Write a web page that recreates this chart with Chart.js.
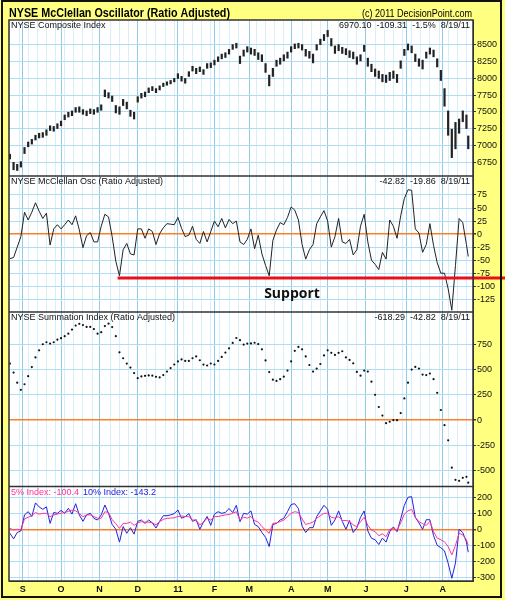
<!DOCTYPE html>
<html>
<head>
<meta charset="utf-8">
<title>NYSE McClellan Oscillator (Ratio Adjusted)</title>
<script src="https://cdn.jsdelivr.net/npm/chart.js@4.4.0/dist/chart.umd.min.js"></script>
<style>
  html, body { margin: 0; padding: 0; background: #ffff80; }
  canvas { display: block; }
</style>
</head>
<body>
<canvas id="chart" width="505" height="600"></canvas>
<script>
// one sample every 2 trading sessions, session 0 = 23 Aug 2010, last = 19 Aug 2011
const sampleStep = 2;
const lastSession = 251;

// month starts (session index) and their labels
const monthStarts = [7, 28, 49, 70, 92, 112, 131, 154, 174, 195, 217, 237];
const monthLabels = ['S', 'O', 'N', 'D', '11', 'F', 'M', 'A', 'M', 'J', 'J', 'A'];

// NYSE Composite, high/low of each sample
const compLow = [6800,6640,6630,6680,6880,6980,7020,7080,7110,7120,
  7150,7220,7210,7250,7290,7380,7420,7440,7490,7490,
  7460,7440,7470,7460,7490,7520,7720,7700,7650,7480,
  7460,7590,7540,7430,7390,7640,7700,7720,7780,7810,
  7780,7820,7870,7890,7910,7940,7990,7950,7920,8020,
  8100,8060,8090,8050,8140,8150,8190,8240,8280,8300,
  8350,8420,8440,8210,8320,8380,8350,8330,8270,8240,
  8080,7880,8020,8170,8200,8250,8290,8380,8430,8440,
  8410,8320,8290,8220,8410,8490,8550,8610,8470,8360,
  8400,8360,8340,8300,8280,8200,8250,8390,8170,8090,
  8020,7990,7940,7930,7960,7990,7930,8140,8330,8410,
  8370,8240,8170,8130,8290,8350,8310,8160,7960,7580,
  7150,6820,6950,7180,7350,7250,6950];
const compHigh = [6880,6760,6730,6770,6980,7060,7100,7160,7190,7200,
  7240,7300,7290,7330,7370,7460,7500,7520,7570,7580,
  7540,7520,7550,7540,7570,7610,7830,7790,7740,7600,
  7580,7690,7650,7530,7500,7730,7780,7800,7860,7880,
  7850,7890,7930,7950,7970,8000,8070,8030,8000,8100,
  8180,8150,8170,8130,8220,8230,8270,8320,8360,8380,
  8430,8500,8520,8330,8420,8470,8450,8430,8380,8350,
  8220,8050,8150,8270,8300,8350,8390,8470,8510,8520,
  8500,8430,8400,8360,8500,8580,8650,8710,8590,8480,
  8500,8460,8440,8410,8390,8320,8350,8490,8300,8210,
  8140,8110,8060,8050,8090,8110,8060,8260,8430,8510,
  8480,8360,8290,8270,8390,8450,8420,8290,8120,7850,
  7520,7250,7350,7400,7520,7460,7150];

// McClellan Oscillator (ratio adjusted)
const oscValues = [-47,-45,-25,-5,42,27,42,60,44,30,
  40,-21,10,18,10,18,27,18,35,8,
  -26,-3,3,-15,-15,15,38,33,-5,-52,
  -80,-30,-18,-38,-40,10,10,-8,10,5,
  -20,1,12,20,19,18,32,11,-5,-2,
  15,-10,-18,5,-15,5,25,14,30,12,
  28,20,25,-15,-20,-10,10,-28,-2,-38,
  -60,-80,-12,8,22,18,32,52,46,27,
  -20,-48,-30,-20,20,33,45,25,-25,-5,
  30,-15,-18,-10,-40,-30,15,38,-15,-50,
  -58,-68,-35,-48,27,15,-8,35,68,85,
  84,10,2,-35,-20,20,-22,-55,-75,-75,
  -105,-146,-60,30,22,-20,-43];

// Summation Index (ratio adjusted)
const sumValues = [559,470,370,300,355,435,525,620,690,750,
  770,757,770,795,810,830,855,895,935,952,
  940,921,921,900,855,870,930,954,920,830,
  670,612,559,520,465,415,432,438,442,440,
  428,422,445,480,515,550,580,600,585,585,
  612,630,592,549,540,560,550,585,625,668,
  710,763,812,790,747,757,758,765,752,700,
  590,475,400,388,405,430,490,580,685,724,
  700,630,545,480,510,555,640,690,665,645,
  665,681,620,595,562,477,440,490,480,380,
  250,130,45,-30,-16,0,0,70,215,370,
  500,526,510,450,445,461,405,270,100,-50,
  -200,-470,-590,-600,-570,-560,-618];

// 5% and 10% trend indexes
const pct5Values = [6,-4,0,-2,65,75,85,105,95,100,
  100,79,90,95,100,105,112,120,115,100,
  79,90,90,80,69,69,110,105,60,35,
  6,37,37,45,25,40,48,44,45,40,
  28,48,62,69,70,72,80,83,80,79,
  58,58,27,45,69,58,79,80,85,90,
  92,100,110,58,75,70,80,55,45,17,
  -4,-25,37,40,48,58,79,100,110,105,
  65,30,37,45,69,85,100,100,75,70,
  79,55,55,50,27,17,48,75,25,-5,
  -15,-40,-28,-46,0,6,-5,40,95,115,
  125,75,48,35,25,50,-15,-55,-65,-78,
  -108,-160,-100,-25,-35,-65,-100];
const pct10Values = [-25,-60,-20,-10,90,110,80,165,140,125,
  140,37,105,100,118,100,131,95,160,90,
  50,90,100,68,58,90,152,100,30,0,
  -80,17,-25,10,-30,50,58,37,58,40,
  8,50,85,85,90,98,121,69,79,98,
  50,60,0,45,80,25,95,110,100,105,
  130,105,150,48,100,95,115,30,17,-20,
  -50,-108,30,37,58,69,110,155,160,130,
  20,-20,10,10,80,115,150,125,25,58,
  115,50,0,55,-20,10,75,115,-10,-56,
  -65,-95,-55,-80,-15,15,-15,65,150,200,
  204,75,40,0,60,60,-40,-100,-115,-135,
  -212,-306,-210,0,-20,-80,-143];

// support annotation on the oscillator
const supportLevel = -84;
const supportFrom = 59;
const supportTo = 272;

// y tick labels per panel
const compTicks = [6750, 7000, 7250, 7500, 7750, 8000, 8250, 8500];
const oscTicks = [-125, -100, -75, -50, -25, 0, 25, 50, 75];
const sumTicks = [-500, -250, 0, 250, 500, 750];
const pctTicks = [-300, -200, -100, 0, 100, 200];

const FONT = 'Liberation Sans';

function sessionOf(i, n) {
  return i === n - 1 ? lastSession : i * sampleStep;
}
function points(arr) {
  return arr.map((v, i) => ({ x: sessionOf(i, arr.length), y: v }));
}

// weekly minor lines + monthly major lines on the time axis
const xGridTicks = monthStarts.map(v => ({ value: v, major: true }));
for (let t = 0; t <= 253; t += 5) {
  if (monthStarts.every(m => Math.abs(m - t) > 1.5)) xGridTicks.push({ value: t, major: false });
}
xGridTicks.sort((a, b) => a.value - b.value);

function yAxis(weight, stackWeight, min, max, ticks, zeroLine) {
  return {
    type: 'linear',
    position: 'right',
    stack: 'panels',
    stackWeight: stackWeight,
    weight: weight,
    min: min,
    max: max,
    beginAtZero: false,
    afterBuildTicks: s => { s.ticks = ticks.map(v => ({ value: v })); },
    afterFit: s => { s.width = 32; },
    grid: {
      color: c => (zeroLine && c.tick && c.tick.value === 0) ? '#ff7f27' : '#b0dcf2',
      lineWidth: c => (zeroLine && c.tick && c.tick.value === 0) ? 1.5 : 1,
      tickLength: 3,
      tickColor: '#333'
    },
    border: { display: true, color: '#333', width: 1 },
    ticks: {
      autoSkip: false,
      padding: 1,
      color: '#111',
      font: { family: FONT, size: 9 },
      callback: v => String(v)
    }
  };
}

const panelTexts = [
  { left: 'NYSE Composite Index', right: '6970.10  -109.31  -1.5%  8/19/11' },
  { left: 'NYSE McClellan Osc (Ratio Adjusted)', right: '-42.82  -19.86  8/19/11' },
  { left: 'NYSE Summation Index (Ratio Adjusted)', right: '-618.29  -42.82  8/19/11' },
  { left: null, right: null }
];

// draw text squeezed horizontally to a given width
function fitText(ctx, text, x, y, width, align) {
  const w = ctx.measureText(text).width;
  const k = Math.min(1, width / w);
  ctx.save();
  ctx.translate(x, y);
  ctx.scale(k, 1);
  ctx.textAlign = align;
  ctx.fillText(text, 0, 0);
  ctx.restore();
}

const decor = {
  id: 'decor',
  beforeDraw(chart) {
    const { ctx, chartArea: a } = chart;
    ctx.save();
    ctx.fillStyle = '#ffff80';
    ctx.fillRect(0, 0, chart.width, chart.height);
    ctx.fillStyle = '#ffffff';
    ctx.fillRect(a.left, a.top, a.right - a.left, a.bottom - a.top);
    ctx.restore();
  },
  afterDraw(chart) {
    const { ctx, chartArea: a } = chart;
    const ys = ['y1', 'y2', 'y3', 'y4'].map(id => chart.scales[id]);
    ctx.save();
    // panel frames
    ctx.strokeStyle = '#333';
    ctx.lineWidth = 1.5;
    ctx.strokeRect(a.left, a.top, a.right - a.left, a.bottom - a.top);
    ys.slice(1).forEach(s => {
      ctx.beginPath();
      ctx.moveTo(a.left, s.top);
      ctx.lineTo(a.right, s.top);
      ctx.stroke();
    });
    // outer border
    ctx.strokeStyle = '#111';
    ctx.lineWidth = 2;
    ctx.strokeRect(2, 1, 499, 596);

    // title
    ctx.fillStyle = '#000';
    ctx.textBaseline = 'middle';
    ctx.font = 'bold 12px ' + FONT;
    fitText(ctx, 'NYSE McClellan Oscillator (Ratio Adjusted)', a.left, 14, 221, 'left');
    ctx.font = '11px ' + FONT;
    fitText(ctx, '(c) 2011 DecisionPoint.com', a.right - 1, 14, 110, 'right');

    // panel captions
    ctx.font = '9px ' + FONT;
    ys.forEach((s, k) => {
      const t = panelTexts[k];
      if (t.left) {
        ctx.textAlign = 'left';
        ctx.fillStyle = '#111';
        ctx.fillText(t.left, a.left + 2, s.top + 6);
      }
      if (t.right) {
        ctx.textAlign = 'right';
        ctx.fillText(t.right, a.right - 3, s.top + 6);
      }
    });
    const s4 = ys[3];
    ctx.textAlign = 'left';
    ctx.fillStyle = '#ff3399';
    ctx.fillText('5% Index: -100.4', a.left + 2, s4.top + 6);
    ctx.fillStyle = '#2222dd';
    ctx.fillText('10% Index: -143.2', a.left + 74, s4.top + 6);

    // support label
    ctx.fillStyle = '#111';
    ctx.font = 'bold 14px "Open Sans"';
    ctx.textAlign = 'center';
    ctx.fillText('Support', 292, chart.scales.y2.getPixelForValue(supportLevel) + 16);
    ctx.restore();
  }
};

new Chart(document.getElementById('chart'), {
  type: 'line',
  data: {
    datasets: [
      {
        type: 'bar',
        label: 'NYSE Composite',
        data: compLow.map((lo, i) => ({ x: sessionOf(i, compLow.length), y: [lo, compHigh[i]] })),
        yAxisID: 'y1',
        backgroundColor: '#222',
        borderWidth: 0,
        inflateAmount: 0,
        barThickness: 2.2
      },
      {
        label: 'Support',
        data: [{ x: supportFrom, y: supportLevel }, { x: supportTo, y: supportLevel }],
        yAxisID: 'y2',
        borderColor: '#e8101a',
        borderWidth: 3,
        pointRadius: 0,
        clip: false
      },
      {
        label: 'McClellan Osc',
        data: points(oscValues),
        yAxisID: 'y2',
        borderColor: '#222',
        borderWidth: 1,
        pointRadius: 0,
        tension: 0
      },
      {
        label: 'Summation Index',
        data: points(sumValues),
        yAxisID: 'y3',
        showLine: false,
        pointRadius: 1.1,
        pointBackgroundColor: '#111',
        pointBorderWidth: 0
      },
      {
        label: '5% Index',
        data: points(pct5Values),
        yAxisID: 'y4',
        borderColor: '#ff3399',
        borderWidth: 1,
        pointRadius: 0
      },
      {
        label: '10% Index',
        data: points(pct10Values),
        yAxisID: 'y4',
        borderColor: '#2222dd',
        borderWidth: 1,
        pointRadius: 0
      }
    ]
  },
  options: {
    responsive: false,
    animation: false,
    layout: { padding: { left: 9, top: 20, right: 0, bottom: 0 } },
    plugins: { legend: { display: false }, tooltip: { enabled: false }, title: { display: false } },
    scales: {
      x: {
        type: 'linear',
        min: -0.5,
        max: 253.6,
        offset: false,
        afterBuildTicks: s => { s.ticks = xGridTicks.map(t => ({ value: t.value, major: t.major })); },
        afterFit: s => { s.height = 19; },
        grid: {
          offset: false,
          drawTicks: false,
          color: c => (c.tick && c.tick.major) ? '#8fcbea' : '#d8eef9',
          lineWidth: 1
        },
        border: { display: true, color: '#333' },
        ticks: {
          autoSkip: false,
          maxRotation: 0,
          padding: 3,
          color: '#111',
          font: { family: FONT, size: 9, weight: 'bold' },
          major: { enabled: false },
          callback: v => {
            const k = monthStarts.indexOf(v);
            return k >= 0 ? monthLabels[k] : '';
          }
        }
      },
      y1: yAxis(1, 156, 6553, 8859, compTicks, false),
      y2: yAxis(2, 136, -149.4, 111.4, oscTicks, true),
      y3: yAxis(3, 174.5, -656, 1069, sumTicks, true),
      y4: yAxis(4, 94.5, -323, 267.5, pctTicks, true)
    }
  },
  plugins: [decor]
});
</script>
</body>
</html>
